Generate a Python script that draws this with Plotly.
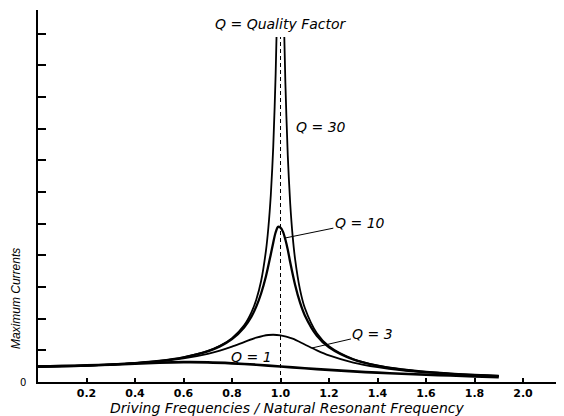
import plotly.graph_objects as go

# ---- data ----
x_q1 = [0, 0.1, 0.2, 0.3, 0.4, 0.5, 0.6, 0.7, 0.8, 0.9, 1.0, 1.1, 1.2, 1.3, 1.4, 1.5, 1.6, 1.7, 1.8, 1.9]
y_q1 = [0.97, 1.0, 1.05, 1.1, 1.16, 1.22, 1.25, 1.24, 1.18, 1.09, 0.98, 0.87, 0.76, 0.67, 0.59, 0.52, 0.46, 0.41, 0.36, 0.31]

x_q3 = [0, 0.1, 0.2, 0.3, 0.4, 0.5, 0.6, 0.7, 0.75, 0.8, 0.85, 0.9, 0.95, 1.0, 1.05, 1.1, 1.15, 1.2,
        1.3, 1.4, 1.5, 1.6, 1.7, 1.8, 1.9]
y_q3 = [0.98, 1.0, 1.04, 1.1, 1.18, 1.3, 1.49, 1.78, 1.98, 2.23, 2.52, 2.8, 2.97, 2.95, 2.74, 2.37, 2.0, 1.68,
        1.23, 0.94, 0.74, 0.61, 0.51, 0.43, 0.37]

x_q10 = [0, 0.1, 0.2, 0.3, 0.4, 0.5, 0.6, 0.7, 0.75, 0.8, 0.85, 0.88, 0.9, 0.92, 0.94, 0.96, 0.97, 0.98, 0.99,
         1.0, 1.01, 1.02, 1.03, 1.04, 1.06, 1.08, 1.1, 1.15, 1.2, 1.3, 1.4, 1.5, 1.6, 1.7, 1.8, 1.9]
y_q10 = [0.98, 1.01, 1.04, 1.1, 1.19, 1.33, 1.56, 1.94, 2.25, 2.71, 3.45, 4.13, 4.76, 5.59, 6.68, 8.07, 8.8, 9.46, 9.8,
         9.75, 9.5, 9.0, 8.36, 7.56, 6.14, 5.04, 4.22, 2.92, 2.19, 1.42, 1.03, 0.79, 0.64, 0.53, 0.45, 0.38]

x_q30 = [0, 0.1, 0.2, 0.3, 0.4, 0.5, 0.6, 0.7, 0.75, 0.8, 0.85, 0.88, 0.9, 0.92, 0.94, 0.95, 0.96, 0.97, 0.98,
         0.99, 1.0, 1.01, 1.02, 1.03, 1.04, 1.05, 1.06, 1.08, 1.1, 1.15, 1.2, 1.3, 1.4, 1.5, 1.6, 1.7, 1.8, 1.9]
y_q30 = [0.98, 1.01, 1.04, 1.1, 1.19, 1.33, 1.56, 1.96, 2.28, 2.77, 3.58, 4.4, 5.2, 6.38, 8.3, 9.76, 11.81, 14.84, 19.48,
         25.95, 30, 25.5, 18.94, 14.3, 11.28, 9.23, 7.78, 5.87, 4.69, 3.08, 2.26, 1.45, 1.04, 0.8, 0.64, 0.53, 0.45, 0.38]

x_ticks = [0.2, 0.4, 0.6, 0.8, 1.0, 1.2, 1.4, 1.6, 1.8, 2.0]
x_tick_labels = ["0.2", "0.4", "0.6", "0.8", "1.0", "1.2", "1.4", "1.6", "1.8", "2.0"]
y_ticks = [0, 2, 4, 6, 8, 10, 12, 14, 16, 18, 20, 22]
y_tick_labels = ["0"] + [""] * 11

resonance_x = [1.0, 1.0]
resonance_y = [0, 30]

Y_MAX = 23.5      # top of the drawn y axis
CLIP_TOP = 21.8   # where the curves leave the drawing
X_MAX = 2.169

FONT = "DejaVu Sans"
ink = "black"

fig = go.Figure()

fig.add_trace(go.Scatter(x=resonance_x, y=resonance_y, mode="lines", yaxis="y2",
                         line=dict(color=ink, width=1, dash="4px,3px"), showlegend=False))

for xs, ys, w in [(x_q30, y_q30, 1.8), (x_q10, y_q10, 2.3), (x_q3, y_q3, 1.8), (x_q1, y_q1, 2.7)]:
    fig.add_trace(go.Scatter(x=xs, y=ys, mode="lines", yaxis="y2",
                             line=dict(color=ink, width=w, shape="spline", smoothing=0.8),
                             showlegend=False))

lab_font = dict(family=FONT, size=14, color=ink, style="italic")

annotations = [
    dict(x=1.0, y=22.6, text="Q = Quality Factor", showarrow=False, font=lab_font),
    dict(x=1.165, y=16.14, text="Q = 30", showarrow=False, font=lab_font),
    dict(x=1.02, y=9.1, ax=1.327, ay=10.06, axref="x", ayref="y", text="Q = 10",
         showarrow=True, arrowhead=0, arrowwidth=1, arrowcolor=ink, font=lab_font),
    dict(x=1.13, y=2.15, ax=1.381, ay=3.04, axref="x", ayref="y", text="Q = 3",
         showarrow=True, arrowhead=0, arrowwidth=1, arrowcolor=ink, font=lab_font),
    dict(x=0.882, y=1.58, text="Q = 1", showarrow=False, font=lab_font),
]
for a in annotations:
    a["xref"] = "x"
    a["yref"] = "y"

# axis titles placed in paper coordinates (outside the plotting area)
annotations += [
    dict(x=0.475, y=-0.07, xref="paper", yref="paper", xanchor="center", yanchor="middle",
         text="Driving Frequencies / Natural Resonant Frequency",
         showarrow=False, font=lab_font),
    dict(x=-0.0418, y=0.223, xref="paper", yref="paper", xanchor="center", yanchor="middle",
         text="Maximum Currents", textangle=-90, showarrow=False,
         font=dict(family="Liberation Sans", size=12, color=ink, style="italic")),
]
fig.update_layout(annotations=annotations)

# the page adds an 8px body margin, so the figure is 8px smaller than the window
fig.update_layout(
    width=556, height=408,
    margin=dict(l=30, r=0, t=2, b=34),
    paper_bgcolor="white", plot_bgcolor="rgba(0,0,0,0)",
    font=dict(family=FONT, color=ink),
    xaxis=dict(range=[0, X_MAX], anchor="y", tickvals=x_ticks, ticktext=x_tick_labels,
               ticks="inside", ticklen=4, tickwidth=1.5, tickcolor=ink,
               showline=True, linewidth=1.5, linecolor=ink, showgrid=False, zeroline=False,
               tickfont=dict(family=FONT, size=11, color=ink, weight="bold")),
    yaxis=dict(range=[0, Y_MAX], domain=[0, 1], anchor="x", tickvals=y_ticks, ticktext=y_tick_labels,
               ticks="inside", ticklen=8, tickwidth=1.5, tickcolor=ink, ticklabelstandoff=8,
               showline=True, linewidth=1.5, linecolor=ink, showgrid=False, zeroline=False,
               tickfont=dict(family=FONT, size=10, color=ink)),
    yaxis2=dict(range=[0, CLIP_TOP], domain=[0, CLIP_TOP / Y_MAX], anchor="x", visible=False,
                showgrid=False, zeroline=False),
)

fig.write_html("out.html")
